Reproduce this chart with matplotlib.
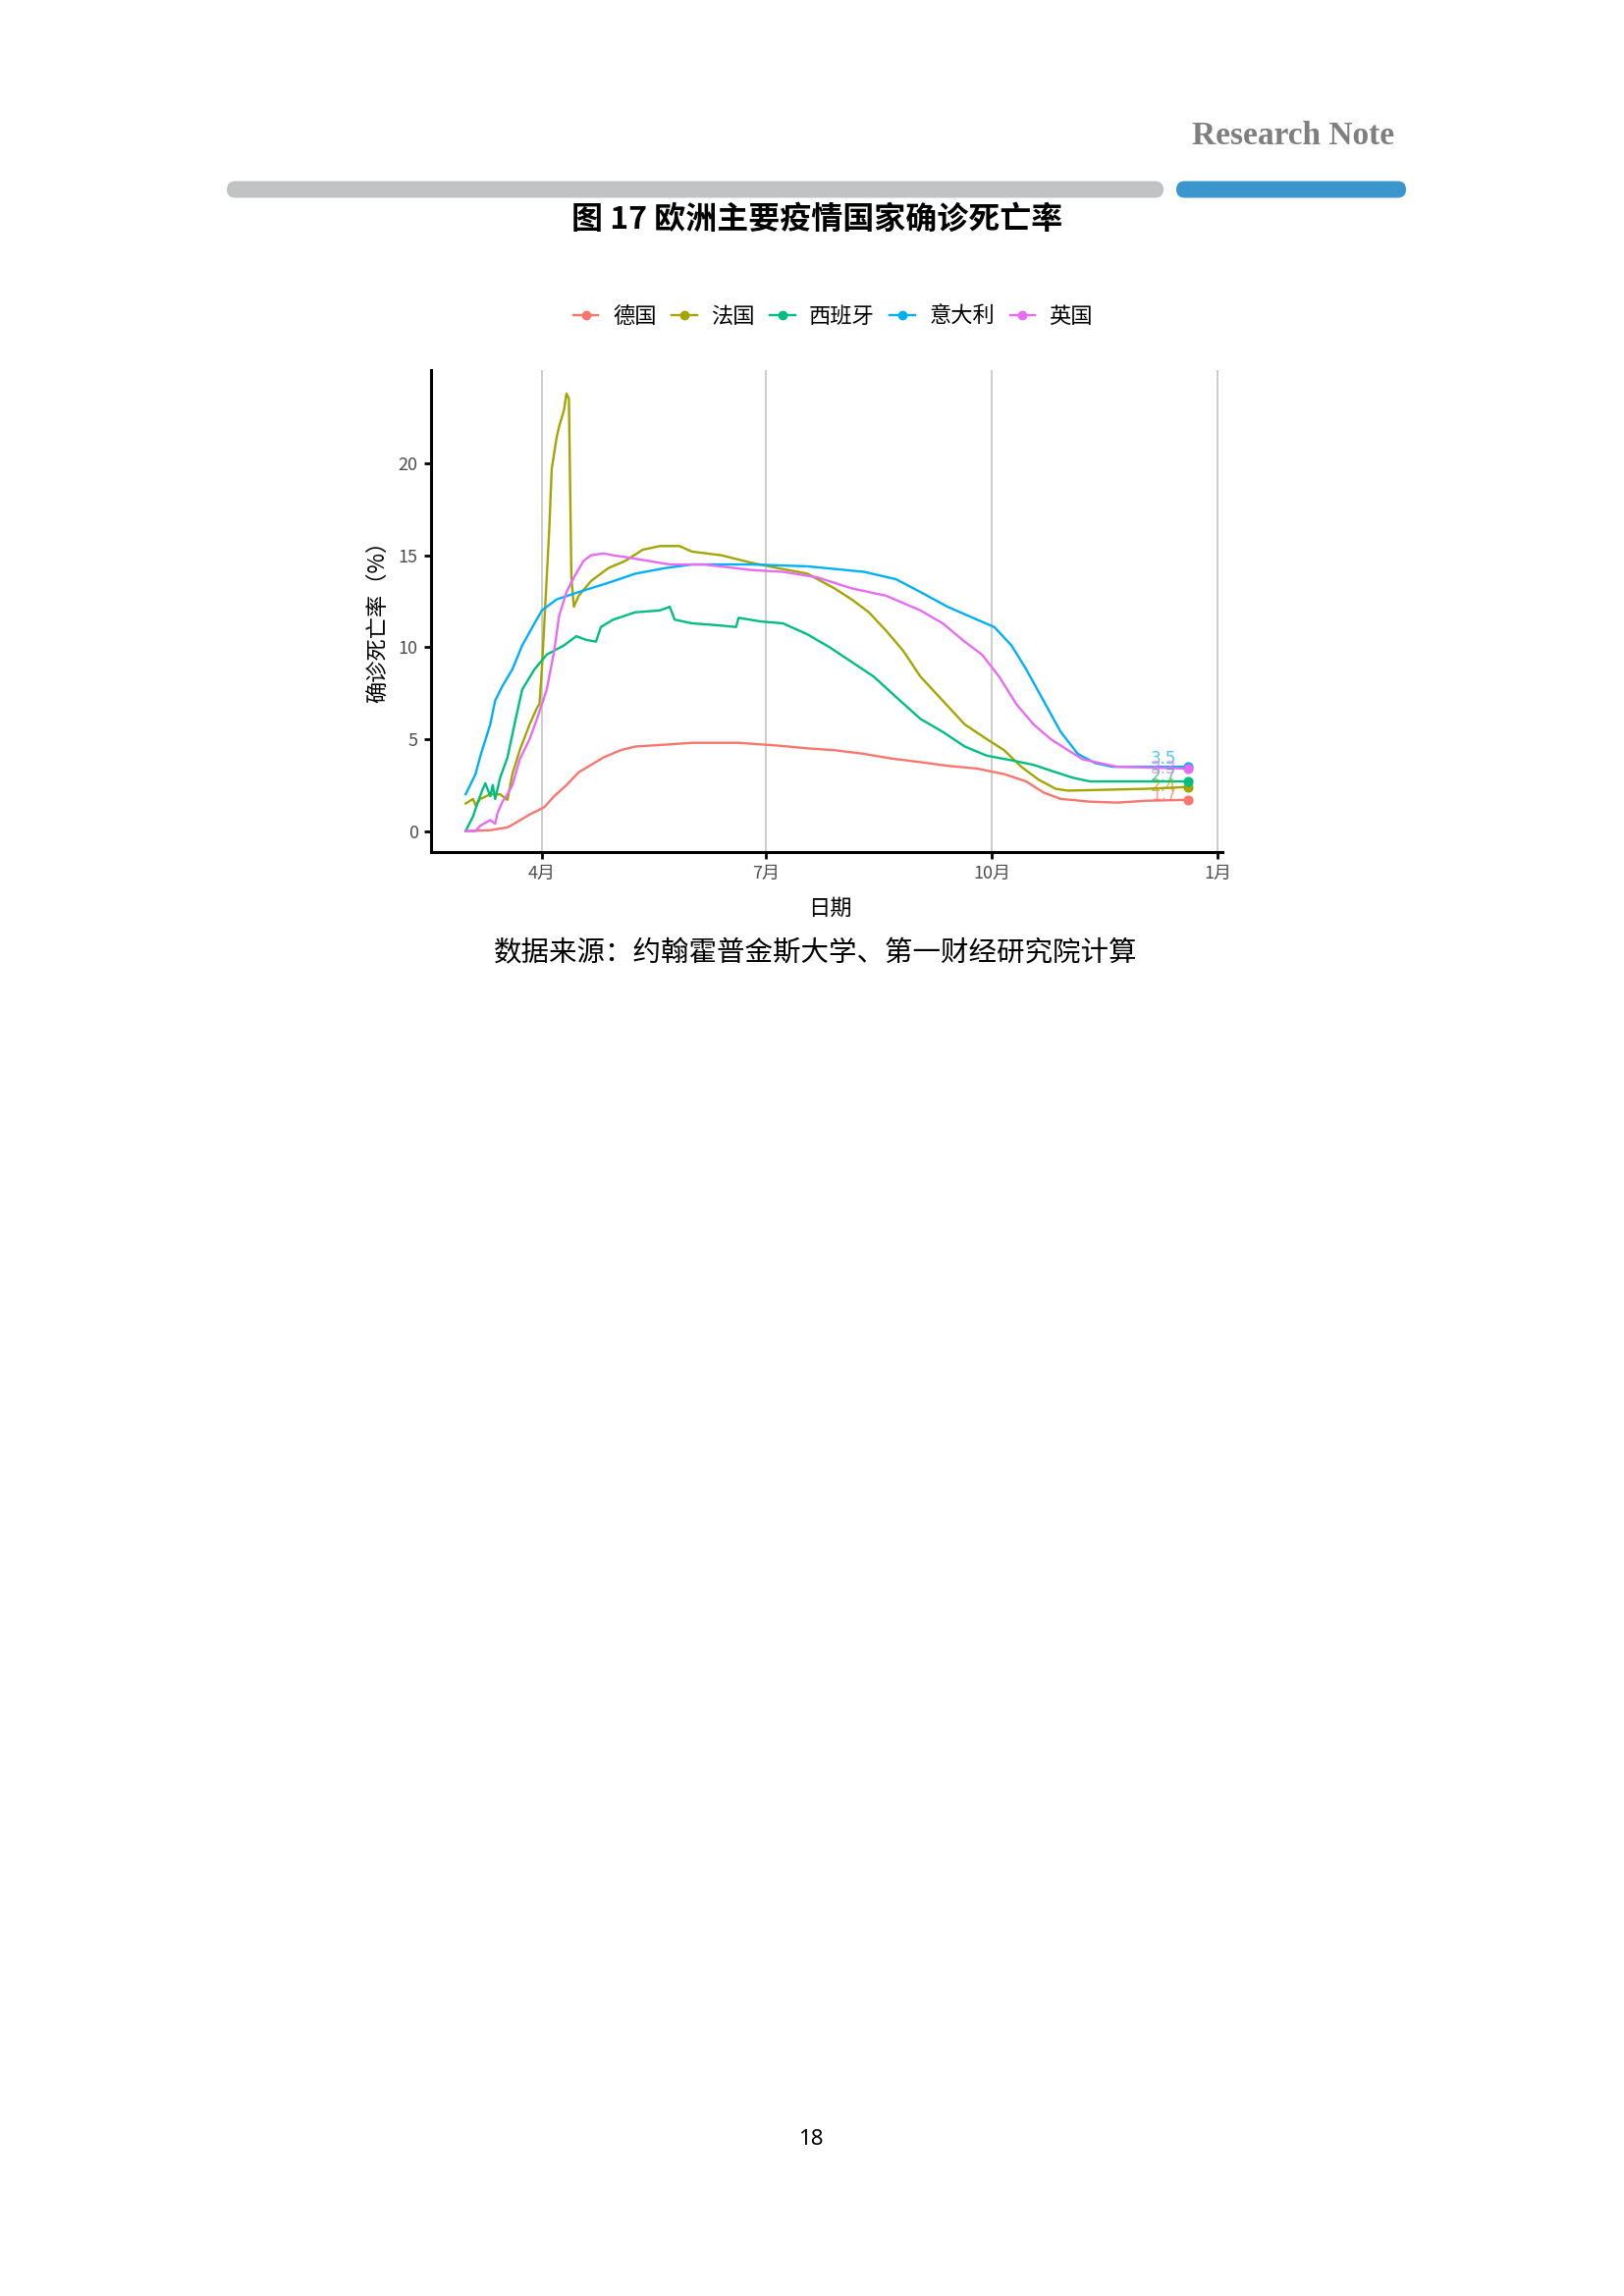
import pandas as pd
import numpy as np
import matplotlib
matplotlib.use('Agg')
import matplotlib.pyplot as plt
import matplotlib.dates as mdates
from matplotlib.patches import FancyBboxPatch
from matplotlib.lines import Line2D

plt.rcParams['font.family'] = ['Noto Sans CJK SC', 'DejaVu Sans']

# 数据：确诊死亡率（%）
countries = ['德国', '法国', '西班牙', '意大利', '英国']
colors = ['#F8766D', '#A3A500', '#00BF7D', '#00B0F6', '#E76BF3']
end_labels = ['1.7', '2.4', '2.7', '3.5', '3.3']

de_dates = ['2020-03-01', '2020-03-11', '2020-03-18', '2020-03-22', '2020-03-27', '2020-04-02',
            '2020-04-06', '2020-04-11', '2020-04-16', '2020-04-21', '2020-04-26', '2020-05-03',
            '2020-05-09', '2020-05-21', '2020-06-01', '2020-06-20', '2020-07-06', '2020-07-18',
            '2020-07-29', '2020-08-10', '2020-08-21', '2020-09-02', '2020-09-13', '2020-09-25',
            '2020-10-06', '2020-10-15', '2020-10-22', '2020-10-29', '2020-11-10', '2020-11-21',
            '2020-12-03', '2020-12-20']
de_vals = [0.0, 0.05, 0.2, 0.5, 0.9, 1.3,
           1.9, 2.5, 3.2, 3.6, 4.0, 4.4,
           4.6, 4.7, 4.8, 4.8, 4.65, 4.5,
           4.4, 4.2, 3.95, 3.75, 3.55, 3.4,
           3.1, 2.7, 2.1, 1.75, 1.6, 1.55,
           1.65, 1.7]

fr_dates = ['2020-03-01', '2020-03-04', '2020-03-05', '2020-03-07', '2020-03-11', '2020-03-15',
            '2020-03-18', '2020-03-20', '2020-03-23', '2020-03-27', '2020-03-30', '2020-03-31',
            '2020-04-01', '2020-04-04', '2020-04-05', '2020-04-07', '2020-04-08', '2020-04-10',
            '2020-04-11', '2020-04-12', '2020-04-13', '2020-04-14', '2020-04-16', '2020-04-21',
            '2020-04-28', '2020-05-05', '2020-05-12', '2020-05-19', '2020-05-27', '2020-06-01',
            '2020-06-13', '2020-06-25', '2020-07-06', '2020-07-18', '2020-07-29', '2020-08-05',
            '2020-08-12', '2020-08-19', '2020-08-26', '2020-09-02', '2020-09-11', '2020-09-20',
            '2020-09-29', '2020-10-06', '2020-10-13', '2020-10-20', '2020-10-27', '2020-11-01',
            '2020-11-17', '2020-12-03', '2020-12-20']
fr_vals = [1.5, 1.75, 1.4, 1.75, 2.0, 2.0,
           1.7, 3.1, 4.4, 5.8, 6.7, 6.9,
           8.8, 16.4, 19.7, 21.4, 22.0, 22.9,
           23.8, 23.5, 13.8, 12.2, 12.8, 13.6,
           14.3, 14.7, 15.3, 15.5, 15.5, 15.2,
           15.0, 14.6, 14.3, 14.0, 13.2, 12.6,
           11.9, 10.9, 9.8, 8.4, 7.1, 5.8,
           5.0, 4.4, 3.5, 2.8, 2.3, 2.2,
           2.25, 2.3, 2.4]

es_dates = ['2020-03-01', '2020-03-04', '2020-03-06', '2020-03-08', '2020-03-09', '2020-03-11',
            '2020-03-12', '2020-03-13', '2020-03-15', '2020-03-18', '2020-03-21', '2020-03-24',
            '2020-03-29', '2020-04-03', '2020-04-10', '2020-04-15', '2020-04-19', '2020-04-23',
            '2020-04-25', '2020-04-30', '2020-05-09', '2020-05-19', '2020-05-23', '2020-05-25',
            '2020-06-01', '2020-06-11', '2020-06-19', '2020-06-20', '2020-06-29', '2020-07-08',
            '2020-07-18', '2020-07-27', '2020-08-05', '2020-08-14', '2020-08-23', '2020-09-02',
            '2020-09-11', '2020-09-20', '2020-09-29', '2020-10-09', '2020-10-18', '2020-10-27',
            '2020-11-03', '2020-11-10', '2020-12-20']
es_vals = [0.0, 0.8, 1.6, 2.3, 2.6, 1.9,
           2.5, 1.75, 2.9, 4.0, 5.9, 7.7,
           8.8, 9.6, 10.1, 10.6, 10.4, 10.3,
           11.1, 11.5, 11.9, 12.0, 12.2, 11.5,
           11.3, 11.2, 11.1, 11.6, 11.4, 11.3,
           10.7, 10.0, 9.2, 8.4, 7.3, 6.1,
           5.4, 4.6, 4.1, 3.85, 3.6, 3.2,
           2.9, 2.7, 2.7]

it_dates = ['2020-03-01', '2020-03-05', '2020-03-07', '2020-03-11', '2020-03-13', '2020-03-16',
            '2020-03-20', '2020-03-24', '2020-03-29', '2020-04-01', '2020-04-07', '2020-04-16',
            '2020-04-28', '2020-05-09', '2020-05-21', '2020-06-01', '2020-06-25', '2020-07-18',
            '2020-08-10', '2020-08-23', '2020-09-02', '2020-09-13', '2020-09-25', '2020-10-02',
            '2020-10-09', '2020-10-15', '2020-10-22', '2020-10-29', '2020-11-05', '2020-11-12',
            '2020-11-19', '2020-12-20']
it_vals = [2.0, 3.1, 4.1, 5.8, 7.1, 7.9,
           8.8, 10.1, 11.3, 12.0, 12.6, 13.0,
           13.5, 14.0, 14.3, 14.5, 14.5, 14.4,
           14.1, 13.7, 13.0, 12.2, 11.5, 11.1,
           10.1, 8.8, 7.1, 5.4, 4.2, 3.7,
           3.5, 3.5]

uk_dates = ['2020-03-01', '2020-03-05', '2020-03-07', '2020-03-11', '2020-03-13', '2020-03-14',
            '2020-03-16', '2020-03-18', '2020-03-20', '2020-03-23', '2020-03-27', '2020-03-30',
            '2020-04-03', '2020-04-06', '2020-04-08', '2020-04-11', '2020-04-14', '2020-04-18',
            '2020-04-21', '2020-04-26', '2020-04-30', '2020-05-05', '2020-05-14', '2020-05-23',
            '2020-06-06', '2020-06-25', '2020-07-08', '2020-07-22', '2020-08-05', '2020-08-19',
            '2020-09-02', '2020-09-11', '2020-09-20', '2020-09-27', '2020-10-04', '2020-10-11',
            '2020-10-18', '2020-10-25', '2020-11-01', '2020-11-07', '2020-11-14', '2020-11-21',
            '2020-12-20']
uk_vals = [0.0, 0.0, 0.3, 0.6, 0.4, 1.0,
           1.6, 2.0, 2.5, 3.9, 5.0, 6.1,
           7.7, 9.8, 11.7, 13.0, 13.8, 14.7,
           15.0, 15.1, 15.0, 14.9, 14.7, 14.5,
           14.5, 14.2, 14.1, 13.8, 13.2, 12.8,
           12.0, 11.3, 10.3, 9.6, 8.4, 6.9,
           5.8, 5.0, 4.4, 3.9, 3.7, 3.5,
           3.4]

series_dates = [de_dates, fr_dates, es_dates, it_dates, uk_dates]
series_vals = [de_vals, fr_vals, es_vals, it_vals, uk_vals]

fig = plt.figure(figsize=(16.54, 23.39), dpi=100)

# 页眉
fig.text(0.8585, 0.9406, 'Research Note', ha='right', va='center', fontsize=24,
         fontweight='bold', color='#7F7F7F', family=['Liberation Serif'])
bar_grey = FancyBboxPatch((2.31 + 0.085, 21.46), 9.54 - 0.17, 0.0,
                          boxstyle='round,pad=0.085', transform=fig.dpi_scale_trans,
                          fc='#C0C2C4', ec='none')
bar_blue = FancyBboxPatch((11.98 + 0.085, 21.46), 2.34 - 0.17, 0.0,
                          boxstyle='round,pad=0.085', transform=fig.dpi_scale_trans,
                          fc='#3A96CC', ec='none')
fig.patches.extend([bar_grey, bar_blue])

fig.text(0.503, 0.9045, '图 17 欧洲主要疫情国家确诊死亡率', ha='center', va='center',
         fontsize=23, fontweight='bold', color='black')

ax = fig.add_axes([0.2654, 0.6289, 0.4873, 0.2099])

for name, d, v, c in zip(countries, series_dates, series_vals, colors):
    x = pd.to_datetime(d)
    ax.plot(x, v, color=c, lw=1.7, label=name, zorder=3)
    ax.scatter([x[-1]], [v[-1]], s=40, color=c, zorder=4)

# 末端标签（ggrepel 式，略有重叠）
lab_y = [1.95, 2.45, 2.95, 3.95, 3.4]
for lab, d, y, c in zip(end_labels, series_dates, lab_y, colors):
    xe = pd.Timestamp(d[-1]) - pd.Timedelta(days=10)
    ax.text(xe, y, lab, color=c, fontsize=12, ha='center', va='center',
            alpha=0.7, zorder=5, family=['DejaVu Sans'])

x0 = pd.Timestamp('2020-04-01') - pd.Timedelta(days=45.1)
x1 = pd.Timestamp('2021-01-01') + pd.Timedelta(days=1.8)
ax.set_xlim(x0, x1)
ax.set_ylim(-1.14, 25.07)

xticks = pd.to_datetime(['2020-04-01', '2020-07-01', '2020-10-01', '2021-01-01'])
ax.set_xticks(xticks)
ax.set_xticklabels(['4月', '7月', '10月', '1月'])
ax.set_yticks([0, 5, 10, 15, 20])
ax.grid(axis='x', color='#C4C4C4', lw=1.2)
ax.grid(axis='y', visible=False)
ax.set_axisbelow(True)

for s in ['top', 'right']:
    ax.spines[s].set_visible(False)
for s in ['left', 'bottom']:
    ax.spines[s].set_linewidth(2.2)
    ax.spines[s].set_color('black')
ax.tick_params(axis='both', length=5, width=2.0, color='black', labelsize=13,
               labelcolor='#4D4D4D', pad=4.5)

fig.text(0.2325, 0.7315, '确诊死亡率（%）', rotation=90, ha='center', va='center', fontsize=16)
fig.text(0.511, 0.6045, '日期', ha='center', va='center', fontsize=16)

handles = [Line2D([0], [0], color=c, lw=1.7, marker='o', markersize=6) for c in colors]
fig.legend(handles, countries, loc='center', bbox_to_anchor=(0.513, 0.8623), ncol=5,
           frameon=False, fontsize=16, handlelength=1.15, handletextpad=0.65,
           columnspacing=0.7)

fig.text(0.502, 0.5849, '数据来源：约翰霍普金斯大学、第一财经研究院计算', ha='center', va='center',
         fontsize=20.5, color='black')

fig.text(0.4995, 0.0680, '18', ha='center', va='center', fontsize=16, family=['Noto Sans'])

fig.savefig('out.png', dpi=100)
